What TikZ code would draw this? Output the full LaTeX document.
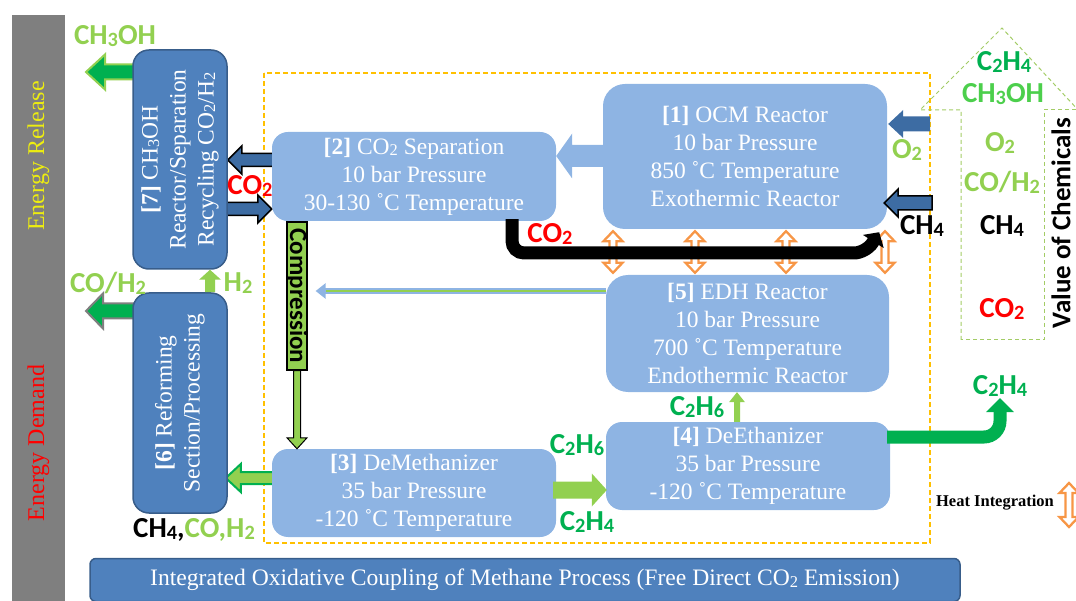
\documentclass[tikz,border=0pt]{standalone}
\usepackage{fontspec}
\setmainfont{Liberation Serif}
\newfontfamily\chem{Carlito}
\usepackage{graphicx}
\usetikzlibrary{calc,arrows.meta}
\pgfdeclarelayer{bg}
\pgfsetlayers{bg,main}

\definecolor{dblue}{HTML}{4F81BD}
\definecolor{dbord}{HTML}{385D8A}
\definecolor{lblue}{HTML}{8EB4E3}
\definecolor{lgreen}{HTML}{92D050}
\definecolor{dgreen}{HTML}{00B050}
\definecolor{bgreen}{HTML}{4CCF4C}
\definecolor{orng}{HTML}{F79646}
\definecolor{ydash}{HTML}{FFC000}
\definecolor{grbar}{HTML}{7F7F7F}
\definecolor{ylw}{HTML}{EDED10}
\definecolor{arrblue}{HTML}{3D6CA3}
\definecolor{olivedash}{HTML}{A3CC66}

\newcommand\sbx[1]{\raisebox{-0.06em}{\scalebox{0.7}{#1}}}
\newcommand\boxfont{\fontsize{23.5}{28}\selectfont}
\newcommand\chemfont{\chem\bfseries\fontsize{29}{30}\selectfont}

% block arrow: style, A, B, half shaft, half head, head length
\newcommand\barrow[6][]{%
  \coordinate (bac) at ($(#3)!#6!(#2)$);
  \path[#1] ($(#2)!#4!90:(#3)$) -- ($(bac)!#4!-90:(#2)$) -- ($(bac)!#5!-90:(#2)$) -- (#3) -- ($(bac)!#5!90:(#2)$) -- ($(bac)!#4!90:(#2)$) -- ($(#2)!#4!-90:(#3)$) -- cycle;
}
% double block arrow
\newcommand\darrow[6][]{%
  \coordinate (dac) at ($(#2)!#6!(#3)$);
  \coordinate (dbc) at ($(#3)!#6!(#2)$);
  \path[#1] (#2) -- ($(dac)!#5!90:(#3)$) -- ($(dac)!#4!90:(#3)$) -- ($(dbc)!#4!-90:(#2)$) -- ($(dbc)!#5!-90:(#2)$) -- (#3) -- ($(dbc)!#5!90:(#2)$) -- ($(dbc)!#4!90:(#2)$) -- ($(dac)!#4!-90:(#3)$) -- ($(dac)!#5!-90:(#3)$) -- cycle;
}

\begin{document}
\begin{tikzpicture}[x=1pt,y=-1pt,
  dbox/.style={draw=dbord, line width=1.5pt, fill=dblue, rounded corners=16pt, inner sep=0pt},
  lbox/.style={fill=lblue, rounded corners=16pt, text=white, font=\boxfont, align=center, inner sep=1pt},
  boxtext/.style={text=white, font=\boxfont, align=center, inner sep=0pt},
  chemlab/.style={font=\chemfont, inner sep=0pt},
  heat/.style={fill=white, draw=orng, line width=2.3pt, line join=miter},
]
\useasboundingbox (0,0) rectangle (1076,601);

% energy bar
\node[fill=grbar, minimum width=53pt, minimum height=590pt, inner sep=0pt, anchor=north west] (gbar) at (12,15) {};
\node[rotate=90, text=ylw, font=\fontsize{24}{28}\selectfont, inner sep=0pt] (erel) at (38.5,156) {Energy Release};
\node[rotate=90, text=red, font=\fontsize{24}{28}\selectfont, inner sep=0pt] (edem) at (38.5,443) {Energy Demand};

% left boxes
\node[dbox, minimum width=94pt, minimum height=219pt] (b7) at (180,159.5) {};
\node[boxtext, rotate=90] (t7) at (b7) {\textbf{[7]} CH\sbx{3}OH\\Reactor/Separation\\Recycling CO\sbx{2}/H\sbx{2}};
\node[dbox, minimum width=94pt, minimum height=220pt] (b6) at (180,403) {};
\node[boxtext, rotate=90] (t6) at (b6) {\textbf{[6]} Reforming\\Section/Processing};

% process boxes
\node[lbox, minimum width=284pt, minimum height=89pt] (b2) at (414,176.5) {\textbf{[2]} CO\sbx{2} Separation\\10 bar Pressure\\30-130 ˚C Temperature};
\node[lbox, rounded corners=22pt, minimum width=284pt, minimum height=145pt] (b1) at (745,156.5) {\textbf{[1]} OCM Reactor\\10 bar Pressure\\850 ˚C Temperature\\Exothermic Reactor};
\node[lbox, rounded corners=22pt, minimum width=283pt, minimum height=117pt] (b5) at (747.5,333.5) {\textbf{[5]} EDH Reactor\\10 bar Pressure\\700 ˚C Temperature\\Endothermic Reactor};
\node[lbox, minimum width=284pt, minimum height=88pt] (b4) at (748,466) {\textbf{[4]} DeEthanizer\\35 bar Pressure\\-120 ˚C Temperature};
\node[lbox, minimum width=284pt, minimum height=88pt] (b3) at (414,493) {\textbf{[3]} DeMethanizer\\35 bar Pressure\\-120 ˚C Temperature};

% compression bar
\node[fill=lgreen, draw=black, line width=1.2pt, minimum width=20pt, minimum height=148pt, inner sep=0pt] (comp) at (297,296) {};
\node[rotate=-90, font=\chem\bfseries\fontsize{25}{26}\selectfont, inner sep=0pt] (tcomp) at (comp) {Compression};

% banner
\node[fill=dblue, draw=dbord, line width=1.5pt, rounded corners=6pt, minimum width=870pt, minimum height=43pt, text=white, font=\fontsize{23.6}{26}\selectfont] (ban) at (525,580) {Integrated Oxidative Coupling of Methane Process (Free Direct CO\sbx{2} Emission)};

% labels
\node[chemlab, text=lgreen] (lch3oh) at (115,36) {CH\sbx{3}OH};
\node[chemlab, text=lgreen] (lcoh2) at (108,283) {CO/H\sbx{2}};
\node[chemlab, text=lgreen] (lh2) at (238,283) {H\sbx{2}};
\node[chemlab, text=red] (lco2a) at (250,186) {CO\sbx{2}};
\node[chemlab] (lmix) at (194,530) {CH\sbx{4},\textcolor{lgreen}{CO,H\sbx{2}}};
\node[chemlab, text=red] (lco2b) at (550,234) {CO\sbx{2}};
\node[chemlab, text=lgreen] (lo2) at (907,150) {O\sbx{2}};
\node[chemlab] (lch4) at (922,226) {CH\sbx{4}};
\node[chemlab, text=dgreen] (lc2h6a) at (577,445) {C\sbx{2}H\sbx{6}};
\node[chemlab, text=dgreen] (lc2h4a) at (587,522) {C\sbx{2}H\sbx{4}};
\node[chemlab, text=dgreen] (lc2h6b) at (697,407) {C\sbx{2}H\sbx{6}};
\node[chemlab, text=dgreen] (lc2h4b) at (1000,386) {C\sbx{2}H\sbx{4}};

% value of chemicals
\node[chemlab, text=dgreen] (v1) at (1004,62) {C\sbx{2}H\sbx{4}};
\node[chemlab, text=bgreen] (v2) at (1003,94) {CH\sbx{3}OH};
\node[chemlab, text=lgreen] (v3) at (1000,143) {O\sbx{2}};
\node[chemlab, text=lgreen] (v4) at (1002,182) {CO/H\sbx{2}};
\node[chemlab] (v5) at (1002,226) {CH\sbx{4}};
\node[chemlab, text=red] (v6) at (1002,309) {CO\sbx{2}};
\node[rotate=90, font=\chem\bfseries\fontsize{27}{28}\selectfont, inner sep=0pt] (vtitle) at (1061,223) {Value of Chemicals};

% heat integration legend
\node[font=\bfseries\fontsize{16.5}{18}\selectfont, inner sep=0pt] (lheat) at (995,503) {Heat Integration};

% helper coordinates
\coordinate (y72) at (0,72);
\coordinate (y311) at (0,311);
\coordinate (x86) at (86,0);
\coordinate (x210) at (210,0);
\coordinate (y160) at (0,160);
\coordinate (y209) at (0,209);
\coordinate (y156) at (0,156);
\coordinate (y124) at (0,124);
\coordinate (y203) at (0,203);
\coordinate (x930) at (930,0);
\coordinate (x932) at (932,0);
\coordinate (y478) at (0,478);
\coordinate (y490) at (0,490);
\coordinate (x737) at (737,0);
\coordinate (y291) at (0,291);
\coordinate (x512) at (512,0);
\coordinate (y437) at (0,437);

\begin{pgfonlayer}{bg}
  % frames
  \draw[ydash, line width=1.5pt, dash pattern=on 5pt off 3pt] (264,73) rectangle (930,543);
  \draw[olivedash, line width=1pt, dash pattern=on 4pt off 3pt] (961,340) -- (961,110) -- (920,110) -- (1002,28) -- (1080,112);
  \draw[olivedash, line width=1pt, dash pattern=on 4pt off 3pt] (1076,110) -- (1044,110) -- (1044,340) -- (961,340);

  % CH3OH out
  \path ($(b7.west |- y72)+(4,0)$) coordinate (a7s) (x86 |- y72) coordinate (a7e);
  \barrow[fill=dgreen, draw=lgreen, line width=2pt]{a7s}{a7e}{7.5pt}{17.5pt}{19pt}
  % CO/H2 out
  \path ($(b6.west |- y311)+(4,0)$) coordinate (a6s) (x86 |- y311) coordinate (a6e);
  \barrow[fill=dgreen, draw=grbar, line width=2pt]{a6s}{a6e}{7.5pt}{17.5pt}{17pt}
  % CO2 arrows b2 <-> b7
  \path ($(b2.west |- y160)+(4,0)$) coordinate (c1s) (b7.east |- y160) coordinate (c1e);
  \barrow[fill=arrblue, draw=black, line width=1.5pt]{c1s}{c1e}{6.5pt}{14pt}{14pt}
  \path ($(b7.east |- y209)+(-3,0)$) coordinate (c2s) (b2.west |- y209) coordinate (c2e);
  \barrow[fill=arrblue, draw=black, line width=1.5pt]{c2s}{c2e}{6.5pt}{14pt}{14pt}
  % b5 -> compression
  \path (b5.west |- y291) coordinate (g5s) ($(comp.east |- y291)+(8,0)$) coordinate (g5e);
  \draw[lblue, line width=6pt, -{Triangle[width=15pt,length=10pt]}] (g5s) -- (g5e);
  \draw[lgreen, line width=2.5pt] (g5s) -- ($(g5e)+(10,0)$);
  % b3 -> b6
  \path ($(b3.west |- y478)+(4,0)$) coordinate (r3s) ($(b6.east |- y478)+(-2,0)$) coordinate (r3e);
  \barrow[fill=lgreen, draw=dgreen, line width=2pt]{r3s}{r3e}{6pt}{14pt}{15pt}
  % heat arrows
  \foreach \hx [count=\i] in {613,695,786,885}{
    \coordinate (hx\i) at (\hx,0);
    \path ($(hx\i |- b1.south)+(0,2)$) coordinate (ha\i) ($(hx\i |- b5.north)+(0,-2)$) coordinate (hb\i);
    \darrow[heat]{ha\i}{hb\i}{3.5pt}{9.5pt}{10pt}
  }
\end{pgfonlayer}

% CO2 recycle (black)
\path (x512 |- b2.south) coordinate (k0) (866,253) coordinate (k1) ($(b1.south east)+(-8,3)$) coordinate (k2);
\draw[black, line width=13pt, rounded corners=12pt, -{Triangle[width=24pt,length=11pt]}] ($(k0)+(0,-2)$) |- (k1) -- (k2);

% b1 -> b2 light blue
\path ($(b1.west |- y156)+(3,0)$) coordinate (p1s) (b2.east |- y156) coordinate (p1e);
\barrow[fill=lblue]{p1s}{p1e}{11pt}{22.5pt}{16pt}

% feeds
\path (x930 |- y124) coordinate (o2s) ($(b1.east |- y124)+(1,0)$) coordinate (o2e);
\barrow[fill=arrblue]{o2s}{o2e}{7.5pt}{14pt}{15pt}
\path (x932 |- y203) coordinate (m4s) ($(b1.east |- y203)+(-3,0)$) coordinate (m4e);
\barrow[fill=arrblue, draw=black, line width=1.5pt]{m4s}{m4e}{7pt}{14pt}{14pt}

% H2 up
\path (x210 |- b6.north) coordinate (h2s) (x210 |- b7.south) coordinate (h2e);
\barrow[fill=lgreen]{h2s}{h2e}{5pt}{11pt}{10pt}

% compression -> b3
\path (comp.south) coordinate (cps) (comp.south |- b3.north) coordinate (cpe);
\barrow[fill=lgreen, draw=black, line width=1pt]{cps}{cpe}{3.5pt}{10pt}{11pt}

% b3 -> b4
\path ($(b3.east |- y490)+(-3,0)$) coordinate (e3s) ($(b4.west |- y490)+(1,0)$) coordinate (e3e);
\barrow[fill=lgreen]{e3s}{e3e}{8.5pt}{16.5pt}{15pt}

% b4 -> b5
\path (x737 |- b4.north) coordinate (e4s) (x737 |- b5.south) coordinate (e4e);
\barrow[fill=lgreen]{e4s}{e4e}{3pt}{8pt}{10pt}

% C2H4 product
\path ($(b4.east |- y437)+(-3,0)$) coordinate (q0) (1000,398) coordinate (q1);
\draw[dgreen, line width=13pt, rounded corners=16pt, -{Triangle[width=27pt,length=14pt]}] (q0) -| (q1);

% heat legend arrow
\path (1069,483) coordinate (la) (1069,527) coordinate (lb);
\darrow[heat]{la}{lb}{3.5pt}{9.5pt}{10pt}

\end{tikzpicture}
\end{document}
